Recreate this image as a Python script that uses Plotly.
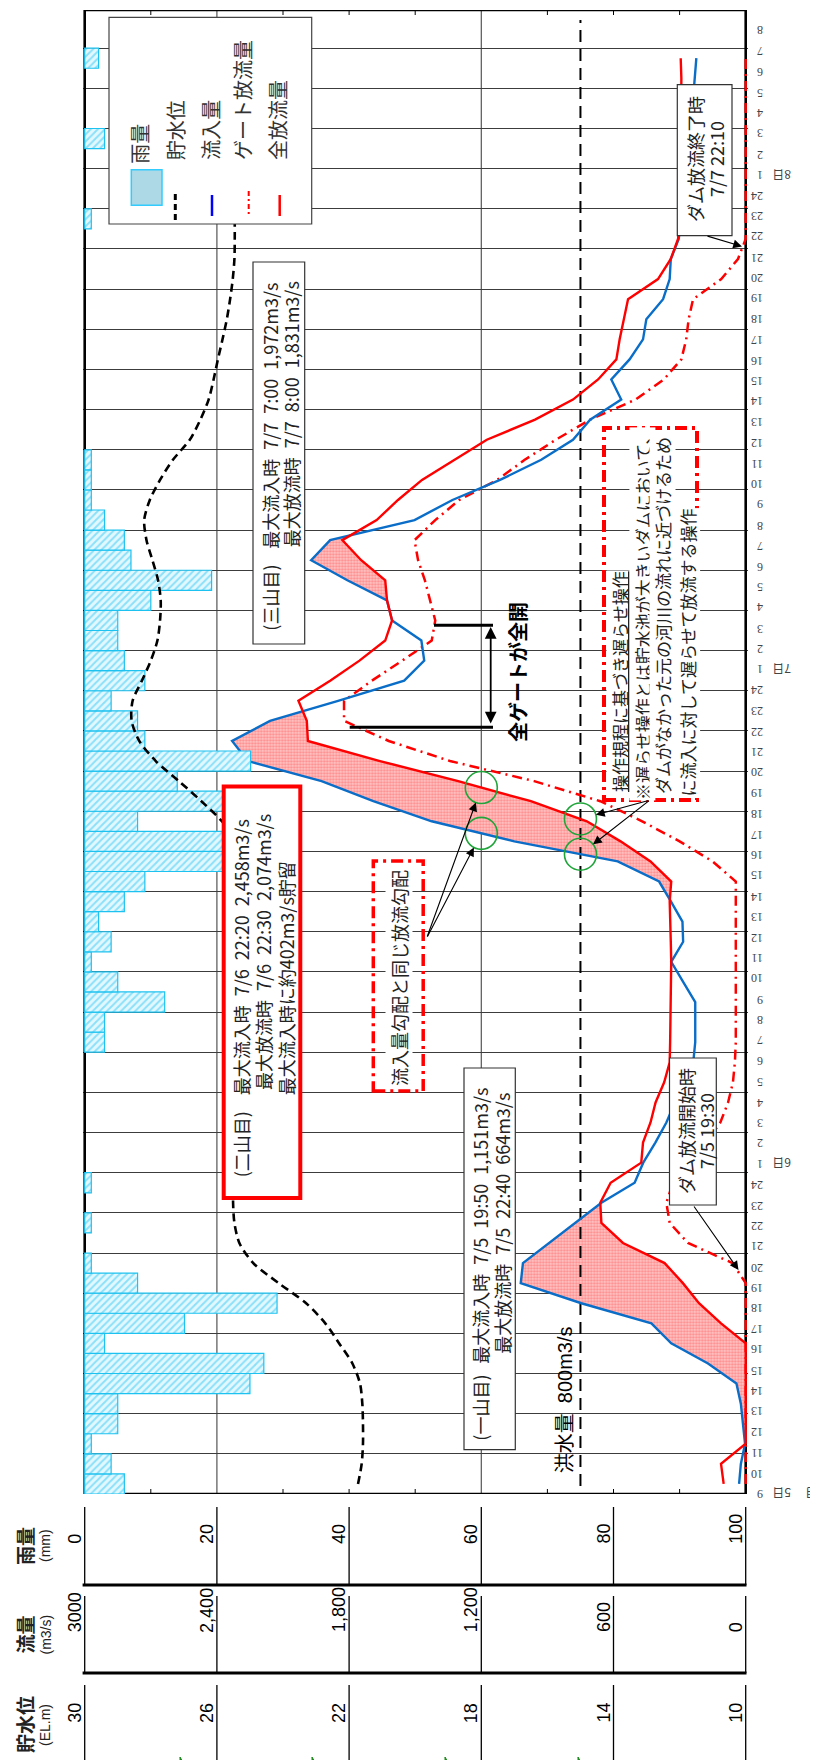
import plotly.graph_objects as go

# ---------------------------------------------------------------- data
# hourly values 7/5 09:00 -> 7/8 09:00, plotted at the middle of each hour
HOURS = [h + 0.5 for h in range(72)]

RAIN_MM = [6.0, 4.0, 1.0, 5.0, 5.0, 25.0, 27.1, 3.0, 15.1, 29.1, 8.0, 1.0, 0, 1.0, 0, 1.0,
           0, 0, 0, 0, 0, 0, 3.0, 3.0, 12.1, 5.0, 1.0, 4.0, 2.1, 6.0, 9.1, 20.9, 20.9, 8.0,
           21.2, 14.0, 25.1, 9.1, 8.0, 4.0, 9.1, 6.0, 5.0, 5.0, 10.0, 19.2, 7.0, 6.0, 3.0,
           1.0, 1.0, 1.0, 0, 0, 0, 0, 0, 0, 0, 0, 0, 0, 0, 1.0, 0, 0, 0, 3.0, 0, 0, 0, 2.1]

INFLOW = [30, 22, 3, 12, 22, 42, 171, 338, 428, 746, 1021, 1011, 891, 772, 655, 504,
          465, 410, 360, 321, 280, 238, 229, 229, 229, 284, 338, 284, 287, 339, 393, 581,
          1050, 1425, 1690, 1925, 2260, 2331, 2159, 1850, 1550, 1459, 1472, 1605, 1628, 1808,
          1972, 1886, 1503, 1331, 1115, 928, 784, 706, 565, 610, 527, 466, 451, 375, 345,
          340, 304, 292, 282, 272, 262, 254, 246, 239, 232, 224]

TOTAL_OUT = [100, 112, 0, 0, 0, 0, 0, 0, 112, 212, 285, 368, 557, 655, 660, 613,
             474, 466, 432, 409, 370, 345, 343, 342, 340, 338, 338, 340, 342, 345, 338, 432,
             568, 721, 975, 1305, 1660, 1987, 1992, 2030, 1886, 1753, 1636, 1605, 1628, 1636,
             1745, 1831, 1675, 1578, 1469, 1325, 1175, 956, 784, 670, 587, 572, 552, 534, 398,
             340, 307, 298, 296, 295, 295, 295, 294, 293, 292, 295]

GATE_OUT = [0, 0, 0, 0, 0, 0, 0, 0, 0, 0, 0, 60, 262, 345, 360, 330,
            260, 180, 115, 80, 58, 49, 45, 45, 45, 45, 45, 45, 45, 45, 45, 150,
            300, 470, 660, 960, 1342, 1620, 1823, 1823, 1697, 1559, 1425, 1409, 1433, 1456,
            1487, 1503, 1409, 1300, 1128, 1003, 862, 706, 500, 372, 292, 270, 259, 239, 111,
            35, 0, 0, 0, 0, 0, 0, 0, 0, 0, 0]

STORAGE_EL = [21.73, 21.62, 21.58, 21.58, 21.60, 21.67, 21.90, 22.30, 22.72, 23.30, 24.13,
              24.90, 25.32, 25.47, 25.51, 25.50, 25.45, 25.40, 25.35, 25.30, 25.25, 25.20,
              25.15, 25.10, 25.05, 25.02, 25.00, 25.00, 25.00, 25.00, 25.02, 25.15, 25.45,
              25.85, 26.47, 27.15, 27.85, 28.35, 28.58, 28.55, 28.27, 28.00, 27.80, 27.72,
              27.70, 27.78, 27.95, 28.13, 28.20, 28.03, 27.72, 27.33, 26.82, 26.50, 26.25,
              26.10, 25.97, 25.83, 25.70, 25.60, 25.52, 25.47, 25.46, 25.46, 25.46, 25.46,
              25.46, 25.46, 25.46, 25.46, 25.46, 25.46]

FLOOD_Q = 750                 # drawn position of the 洪水量 line
FLOOD_T = [0.4, 73.4]

HOUR_LABELS = [9, 10, 11, 12, 13, 14, 15, 16, 17, 18, 19, 20, 21, 22, 23, 24,
               1, 2, 3, 4, 5, 6, 7, 8, 9, 10, 11, 12, 13, 14, 15, 16, 17, 18, 19, 20, 21, 22, 23, 24,
               1, 2, 3, 4, 5, 6, 7, 8, 9, 10, 11, 12, 13, 14, 15, 16, 17, 18, 19, 20, 21, 22, 23, 24,
               1, 2, 3, 4, 5, 6, 7, 8]
DAY_LABELS = [(0, "5日"), (16, "6日"), (40, "7日"), (64, "8日")]

TABLE_Q = [3000, 2400, 1800, 1200, 600, 0]
RAIN_TICKS = ["0", "20", "40", "60", "80", "100"]
FLOW_TICKS = ["3000", "2,400", "1,800", "1,200", "600", "0"]
LEVEL_TICKS = ["30", "26", "22", "18", "14", "10"]
GRID_Q = [1200, 2400]
MINOR_Q = [300, 600, 900, 1500, 1800, 2100, 2700]

# ---------------------------------------------------------------- geometry
W, H = 818, 1760
FRAME_L, FRAME_R = 76.7, 737.7
Y_BOT, Y_TOP = 1486.0, 2.0
T_MAX = 73.9
EXT = 2.0
Q_PER_PX = 3000 / (FRAME_R - FRAME_L)
T_PER_PX = T_MAX / (Y_BOT - Y_TOP)
JP = "Noto Sans CJK JP"
LAT = "Liberation Sans, Noto Sans CJK JP"


def PX(x):
    return x / W


def PY(y):
    return 1 - y / H


def q2px(q):
    return FRAME_R - q / Q_PER_PX


def t2px(t):
    return Y_BOT - t / T_PER_PX


def fill_between(t, a, b):
    tt, bb, uu = [], [], []
    for i in range(len(t)):
        if i > 0:
            d0 = a[i - 1] - b[i - 1]
            d1 = a[i] - b[i]
            if d0 * d1 < 0:
                f = d0 / (d0 - d1)
                tc = t[i - 1] + f * (t[i] - t[i - 1])
                qc = b[i - 1] + f * (b[i] - b[i - 1])
                tt.append(tc); bb.append(qc); uu.append(qc)
        tt.append(t[i]); bb.append(b[i]); uu.append(max(a[i], b[i]))
    return tt, bb, uu


def crossing(series, level, lo, hi):
    for i in range(len(HOURS) - 1):
        t0, t1 = HOURS[i], HOURS[i + 1]
        if t0 < lo or t1 > hi:
            continue
        a, b = series[i] - level, series[i + 1] - level
        if a * b < 0:
            return t0 + a / (a - b) * (t1 - t0)
    return None


fig = go.Figure()

# rain bars
rain_plot = [v if v > 0 else None for v in RAIN_MM]
fig.add_trace(go.Bar(
    x=rain_plot, y=HOURS, orientation="h", width=1.0, base=0, xaxis="x2", yaxis="y",
    marker=dict(color="#e2f8ff", line=dict(color="#1ec2f0", width=1.2),
                pattern=dict(shape="/", fgcolor="#33c8f2", bgcolor="#e2f8ff", size=5, solidity=0.4)),
    hoverinfo="skip"))

# storage (pink) between inflow and total outflow
tt, bb, uu = fill_between(HOURS, INFLOW, TOTAL_OUT)
fig.add_trace(go.Scatter(x=bb, y=tt, mode="lines", line=dict(width=0), hoverinfo="skip"))
fig.add_trace(go.Scatter(x=uu, y=tt, mode="lines", line=dict(width=0), fill="tonextx",
                         fillcolor="#ffb8b8",
                         fillpattern=dict(shape=".", fgcolor="#ff5252", bgcolor="#ffc4c4",
                                          size=3, solidity=0.45),
                         hoverinfo="skip"))

# storage level
fig.add_trace(go.Scatter(x=STORAGE_EL, y=HOURS, xaxis="x3", mode="lines",
                         line=dict(color="black", width=2.6, dash="8px,5px", shape="spline",
                                   smoothing=0.8), hoverinfo="skip"))
# flood discharge line
fig.add_trace(go.Scatter(x=[FLOOD_Q, FLOOD_Q], y=FLOOD_T, mode="lines",
                         line=dict(color="black", width=2, dash="12px,7px"), hoverinfo="skip"))
# gate outflow
fig.add_trace(go.Scatter(x=GATE_OUT, y=HOURS, mode="lines",
                         line=dict(color="#ff0000", width=2.5, dash="10px,5px,2px,5px"),
                         hoverinfo="skip"))
# inflow
fig.add_trace(go.Scatter(x=INFLOW, y=HOURS, mode="lines",
                         line=dict(color="#0a6ec8", width=2.4), hoverinfo="skip"))
# total outflow
fig.add_trace(go.Scatter(x=TOTAL_OUT, y=HOURS, mode="lines",
                         line=dict(color="#ff0000", width=2.4), hoverinfo="skip"))

shapes = []
ann = []


def rect_px(x0, y0, x1, y1, color="#333", width=1.2, fill="white", dash=None, layer="above"):
    ln = dict(color=color, width=width)
    if dash:
        ln["dash"] = dash
    shapes.append(dict(type="rect", xref="paper", yref="paper", x0=PX(x0), x1=PX(x1),
                       y0=PY(y1), y1=PY(y0), line=ln, fillcolor=fill, layer=layer))


def line_px(x0, y0, x1, y1, color="black", width=1, dash=None, layer="above"):
    ln = dict(color=color, width=width)
    if dash:
        ln["dash"] = dash
    shapes.append(dict(type="line", xref="paper", yref="paper", x0=PX(x0), x1=PX(x1),
                       y0=PY(y0), y1=PY(y1), line=ln, layer=layer))


def txt(text, x, y, size=18, angle=-90, xanchor="center", yanchor="middle", color="#222",
        family=JP, bg=None, **kw):
    d = dict(text=text, x=PX(x), y=PY(y), xref="paper", yref="paper", showarrow=False,
             textangle=angle, xanchor=xanchor, yanchor=yanchor,
             font=dict(size=size, color=color, family=family), borderpad=0)
    if bg:
        d["bgcolor"] = bg
    d.update(kw)
    ann.append(d)


def arrow_px(tail, head, standoff=0):
    ann.append(dict(text="", x=PX(head[0]), y=PY(head[1]), xref="paper", yref="paper",
                    showarrow=True, ax=tail[0] - head[0], ay=tail[1] - head[1],
                    arrowhead=2, arrowsize=1.6, arrowwidth=1.1, arrowcolor="black",
                    standoff=standoff))


# frame, grid and ticks
shapes.append(dict(type="rect", xref="x", yref="y", x0=0, x1=3000, y0=0, y1=T_MAX,
                   line=dict(color="black", width=2.6), layer="between"))
for q in GRID_Q:
    shapes.append(dict(type="line", xref="x", yref="y", x0=q, x1=q, y0=0, y1=T_MAX,
                       line=dict(color="#555", width=1.2), layer="below"))
TICK_T = 5 * T_PER_PX
for q in MINOR_Q:
    shapes.append(dict(type="line", xref="x", yref="y", x0=q, x1=q, y0=0, y1=TICK_T,
                       line=dict(color="black", width=1), layer="above"))
    shapes.append(dict(type="line", xref="x", yref="y", x0=q, x1=q, y0=T_MAX - TICK_T,
                       y1=T_MAX, line=dict(color="black", width=1), layer="above"))

# hour / day labels (separate 72-slot scale)
for k, lab in enumerate(HOUR_LABELS):
    ann.append(dict(text=str(lab), x=PX(757), y=k, xref="paper", yref="y2", showarrow=False,
                    textangle=180, font=dict(size=12, color="#444", family="Liberation Serif")))
for k, lab in DAY_LABELS:
    ann.append(dict(text=lab, x=PX(785), y=k, xref="paper", yref="y2", showarrow=False,
                    textangle=180, font=dict(size=12, color="#444", family=JP)))
ann.append(dict(text="月", x=PX(811), y=0, xref="paper", yref="y2", showarrow=False,
                textangle=180, font=dict(size=12, color="#444", family=JP)))

# axis table below the chart
rows = [("雨量", "(mm)", RAIN_TICKS, 1499, 1577),
        ("流量", "(m3/s)", FLOW_TICKS, 1588, 1665),
        ("貯水位", "(EL.m)", LEVEL_TICKS, 1677, 1757)]
for name, unit, ticks, top, bot in rows:
    for q, lab in zip(TABLE_Q, ticks):
        shapes.append(dict(type="line", xref="x", yref="paper", x0=q, x1=q, y0=PY(bot),
                           y1=PY(top), line=dict(color="black", width=1.3)))
        ann.append(dict(text=lab, x=q, xref="x", xshift=-10, y=PY((top + bot) / 2),
                        yref="paper", showarrow=False, textangle=-90,
                        font=dict(size=18, color="black", family=LAT)))
    shapes.append(dict(type="line", xref="paper", yref="paper", x0=PX(74.6), x1=PX(738.5),
                       y0=PY(bot), y1=PY(bot), line=dict(color="black", width=3)))
    txt("<b>" + name + "</b>", 16, (top + bot) / 2, size=19, color="#222")
    txt(unit, 37, (top + bot) / 2, size=14, color="#222", family=LAT)
for gx in [172, 304, 437, 570]:
    shapes.append(dict(type="path", xref="paper", yref="paper",
                       path=f"M {PX(gx)},{PY(1756)} L {PX(gx + 4)},{PY(1756)} L {PX(gx)},{PY(1749)} Z",
                       fillcolor="#1a8a1a", line=dict(color="#1a8a1a", width=1)))

# legend
rect_px(101, 9.3, 303.7, 216, color="#444", width=1.2)
rect_px(123.3, 161.7, 154, 197.3, color="#33ccff", width=1.5, fill="#add8e6")
line_px(167.3, 186, 167.3, 214, color="black", width=3, dash="6px,4px")
line_px(204, 187, 204, 208, color="#0000ff", width=2.5)
line_px(240.7, 183, 240.7, 208, color="#ff0000", width=2, dash="5px,3px,2px,3px")
line_px(271.7, 187, 271.7, 208, color="#ff0000", width=2.5)
for lab, x, yb in [("雨量", 130.7, 157), ("貯水位", 168.3, 153), ("流入量", 202.7, 153),
                   ("ゲート放流量", 235, 153), ("全放流量", 270, 153)]:
    txt(lab, x, yb, size=20, yanchor="bottom", color="#333")

SP = "\u2002"
# (一山目)
rect_px(456, 1060, 507.3, 1441.7)
txt("(一山目)", 471.7, 1434, yanchor="bottom")
txt("最大流入時" + SP + "7/5" + SP + "19:50" + SP + "1,151m3/s", 471.7, 1357, yanchor="bottom")
txt("最大放流時" + SP + "7/5" + SP + "22:40" + SP + "664m3/s", 493.3, 1347, yanchor="bottom")
# (二山目)
rect_px(215.7, 778.5, 292.3, 1190, color="#ff0000", width=4)
txt("(二山目)", 233.3, 1170, yanchor="bottom")
txt("最大流入時" + SP + "7/6" + SP + "22:20" + SP + "2,458m3/s", 233.3, 1088, yanchor="bottom")
txt("最大放流時" + SP + "7/6" + SP + "22:30" + SP + "2,074m3/s", 255, 1083, yanchor="bottom")
txt("最大流入時に約402m3/s貯留", 278.3, 1088, yanchor="bottom")
# (三山目)
rect_px(245, 254, 296.7, 636)
txt("(三山目)", 261.7, 624, yanchor="bottom")
txt("最大流入時" + SP + "7/7" + SP + "7:00" + SP + "1,972m3/s", 261.7, 542, yanchor="bottom")
txt("最大放流時" + SP + "7/7" + SP + "8:00" + SP + "1,831m3/s", 283.3, 540, yanchor="bottom")
# dam release start / end
rect_px(661.5, 1050, 708.3, 1197)
txt("ダム放流開始時", 678, 1123)
txt("7/5 19:30", 698, 1123)
arrow_px((685, 1197), (730.5, 1262))
rect_px(669.3, 76.7, 724, 227.7)
txt("ダム放流終了時", 687, 151)
txt("7/7 22:10", 708, 151)
arrow_px((698, 227.7), (734, 238.5))

# flood line label, full-open bracket
txt("洪水量" + SP + "800m3/s", 556.7, 1391.5, size=20, color="black", family=LAT)
line_px(341.7, 719.3, 485, 719.3, width=3)
line_px(426, 617.3, 485, 617.3, width=3)
ann.append(dict(text="", x=PX(482.7), y=PY(619), xref="paper", yref="paper", showarrow=True,
                ax=0, ay=98, arrowhead=2, arrowside="end+start", arrowsize=1.3,
                arrowwidth=1.8, arrowcolor="black"))
txt("<b>全ゲートが全開</b>", 510, 664, size=20, color="black")

# dashed note boxes
rect_px(365.3, 853, 415.2, 1083, color="#ff0000", width=3.5, fill="rgba(0,0,0,0)",
        dash="12px,5px,3px,5px")
txt("流入量勾配と同じ放流勾配", 391, 970, bg="white")
rect_px(596, 420, 689, 792, color="#ff0000", width=4, fill="rgba(0,0,0,0)",
        dash="12px,5px,3px,5px")
txt("<u>操作規程に基づき遅らせ操作</u>", 611.5, 785, size=17, yanchor="bottom", bg="white")
txt("※遅らせ操作とは貯水池が大きいダムにおいて、", 633.9, 793, size=17, yanchor="bottom", bg="white")
txt("ダムがなかった元の河川の流れに近づけるため", 654.5, 787, size=17, yanchor="bottom", bg="white")
txt("に流入に対して遅らせて放流する操作", 678.6, 790, size=17, yanchor="bottom", bg="white")

# green circles where the rising limbs cross 1,200 and the flood line, with arrows
circles = [(TOTAL_OUT, 1200, 33, 37, (418.7, 930)),
           (INFLOW, 1200, 31.5, 34.5, (418.7, 930)),
           (TOTAL_OUT, FLOOD_Q, 32, 35.5, (642, 792)),
           (INFLOW, FLOOD_Q, 30, 33.5, (642, 792))]
for series, level, lo, hi, tail in circles:
    tc = crossing(series, level, lo, hi)
    shapes.append(dict(type="circle", xref="x", yref="y", xsizemode="pixel", ysizemode="pixel",
                       xanchor=level, yanchor=tc, x0=-16, x1=16, y0=-16, y1=16,
                       line=dict(color="#1fa53a", width=1.6), layer="above"))
    hx, hy = q2px(level), t2px(tc)
    ann.append(dict(text="", x=level, y=tc, xref="x", yref="y", showarrow=True,
                    ax=tail[0] - hx, ay=tail[1] - hy, arrowhead=2, arrowsize=1.6,
                    arrowwidth=1.1, arrowcolor="black", standoff=16))

ext_q = EXT * Q_PER_PX
ext_r = EXT * 100 / (FRAME_R - FRAME_L)
ext_l = EXT * 20 / (FRAME_R - FRAME_L)
hidden = dict(visible=False, showgrid=False, zeroline=False, showticklabels=False,
              ticks="", showline=False)
fig.update_layout(
    width=W, height=H, margin=dict(l=0, r=0, t=0, b=0),
    paper_bgcolor="white", plot_bgcolor="white", showlegend=False, hovermode=False,
    xaxis=dict(domain=[PX(FRAME_L - EXT), PX(FRAME_R + EXT)], range=[3000 + ext_q, -ext_q],
               showgrid=False, zeroline=False, showticklabels=False, ticks="", showline=False),
    xaxis2=dict(overlaying="x", anchor="y", range=[-ext_r, 100 + ext_r], **hidden),
    xaxis3=dict(overlaying="x", anchor="y", range=[30 + ext_l, 10 - ext_l], **hidden),
    yaxis=dict(domain=[PY(Y_BOT), PY(Y_TOP)], range=[0, T_MAX], tick0=0, dtick=2,
               showgrid=True, gridcolor="#3c3c3c", gridwidth=1, zeroline=False,
               showticklabels=False, ticks="", showline=False),
    yaxis2=dict(overlaying="y", anchor="x", range=[0, 72], **hidden),
    shapes=shapes, annotations=ann,
)

fig.write_html("out.html")
